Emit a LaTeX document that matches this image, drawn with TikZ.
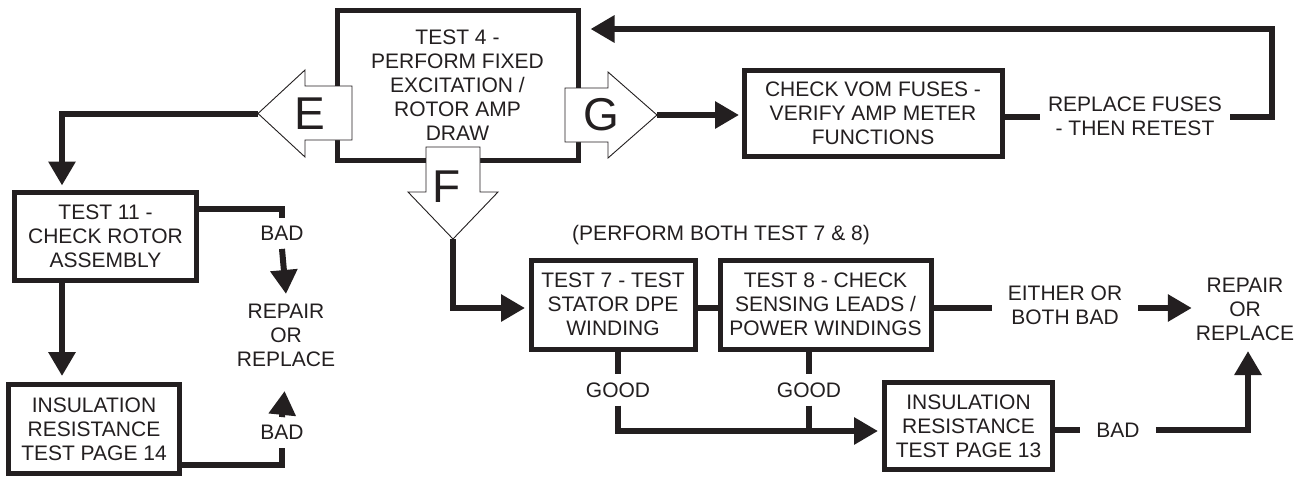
\documentclass[tikz,border=0pt]{standalone}
\usepackage{fontspec}
\setmainfont{Liberation Sans}
\usetikzlibrary{arrows.meta,calc,backgrounds}
\definecolor{ink}{RGB}{35,31,32}
\begin{document}
\begin{tikzpicture}[x=1pt,y=-1pt,
  font=\fontsize{21}{24}\selectfont,
  box/.style={draw=ink, line width=5pt, fill=white, text=ink, align=center, inner sep=0pt, outer sep=2.5pt},
  lbl/.style={align=center, inner xsep=16pt, inner ysep=8pt, text=ink},
  wire/.style={draw=ink, line width=6pt},
  conn/.style={wire, -{Triangle[length=24pt,width=26pt]}},
  blk/.style={draw=ink, line width=0.9pt, fill=white, line join=miter},
  big/.style={font=\fontsize{46}{46}\selectfont, inner sep=0pt, text=ink}]

\useasboundingbox (0,0) rectangle (1311,477);

% boxes
\node[box, minimum width=241pt, minimum height=150pt] (t4) at (457.5,85) {TEST 4 -\\PERFORM FIXED\\EXCITATION /\\ROTOR AMP\\DRAW};
\node[box, minimum width=182pt, minimum height=88pt] (t11) at (105.5,236) {TEST 11 -\\CHECK ROTOR\\ASSEMBLY};
\node[box, minimum width=171pt, minimum height=88.5pt] (ir14) at (94,428.8) {INSULATION\\RESISTANCE\\TEST PAGE 14};
\node[box, minimum width=258pt, minimum height=86pt] (cv) at (873,113) {CHECK VOM FUSES -\\VERIFY AMP METER\\FUNCTIONS};
\node[box, minimum width=164pt, minimum height=89pt] (t7) at (613,304.5) {TEST 7 - TEST\\STATOR DPE\\WINDING};
\node[box, minimum width=211pt, minimum height=89pt] (t8) at (825.5,304.5) {TEST 8 - CHECK\\SENSING LEADS /\\POWER WINDINGS};
\node[box, minimum width=168pt, minimum height=87.5pt] (ir13) at (968.5,425.8) {INSULATION\\RESISTANCE\\TEST PAGE 13};

% labels
\node[lbl, inner xsep=8pt] (rf) at (1135,116.5) {REPLACE FUSES\\- THEN RETEST};
\node[lbl] (bad1) at (282,233.5) {BAD};
\node[lbl, inner ysep=10pt] (rr1) at (286,335.5) {REPAIR\\OR\\REPLACE};
\node[lbl] (bad2) at (282,432.5) {BAD};
\node[lbl] (pb) at (721,235.5) {(PERFORM BOTH TEST 7 \& 8)};
\node[lbl] (eb) at (1065,305) {EITHER OR\\BOTH BAD};
\node[lbl, inner xsep=4pt, inner ysep=10pt] (rr2) at (1245,309.5) {REPAIR\\OR\\REPLACE};
\node[lbl] (good1) at (618,390) {GOOD};
\node[lbl] (good2) at (809,390) {GOOD};
\node[lbl] (bad3) at (1118,430) {BAD};

% block arrows on the TEST 4 box
\draw[blk] (352,86) -- (305,86) -- (305,70) -- (258,113.5) -- (305,157) -- (305,140) -- (352,140) -- cycle;
\draw[blk] (565,88) -- (608,88) -- (608,72) -- (657,115) -- (608,158) -- (608,142) -- (565,142) -- cycle;
\draw[blk] (426,147) -- (426,192) -- (408,192) -- (453,239) -- (498,192) -- (480,192) -- (480,147) -- cycle;
\coordinate (Etip) at (258,113.5);
\coordinate (Gtip) at (657,115);
\coordinate (Ftip) at (453,239);
\node[big] (lE) at (310,113.5) {E};
\node[big] (lG) at (601.5,114.5) {G};
\node[big] (lF) at (447,186.5) {F};

% helper coordinates
\coordinate (colA) at (62,0);
\coordinate (fbR) at (1272,29);
\coordinate (rowB) at (0,308);
\coordinate (rowC) at (0,465);
\coordinate (rowD) at (0,431);

\begin{scope}[on background layer]
\fill[white] (0,0) rectangle (1311,477);
% left branch
\draw[conn, shorten >=4pt] (Etip) -| (t11.north -| colA);
\draw[conn, shorten >=6pt] (t11.south -| colA) -- (ir14.north -| colA);
\draw[wire] ([yshift=27pt]t11.east) -| (bad1.north);
\draw[conn] (bad1.south) -- (rr1.north);
\draw[wire] (ir14.east |- rowC) -| (bad2.south);
\draw[conn, shorten >=14pt] (bad2.north) -- (rr1.south);
% right branch and feedback
\draw[conn, shorten >=2.5pt] (Gtip) -- (Gtip -| cv.west);
\draw[wire] (cv.east |- rf.west) -- (rf.west);
\draw[conn, shorten >=10pt] (rf.east) -| (fbR) -- (fbR -| t4.east);
% lower branch
\draw[conn, shorten >=3.5pt] (Ftip) |- (t7.west |- rowB);
\draw[wire] (t7.east |- rowB) -- (t8.west |- rowB);
\draw[wire] (t8.east |- rowB) -- (eb.west |- rowB);
\draw[conn] (eb.east |- rowB) -- (rr2.west |- rowB);
\draw[wire] (t7.south -| good1) -- (good1.north);
\draw[conn, shorten >=4pt] (good1.south) |- (ir13.west |- rowD);
\draw[wire] (t8.south -| good2) -- (good2.north);
\draw[wire] (good2.south) -- (good2 |- rowD);
\draw[wire] (ir13.east |- bad3.west) -- (bad3.west);
\draw[conn] (bad3.east) -| ([xshift=3pt]rr2.south);
\end{scope}
\end{tikzpicture}
\end{document}
